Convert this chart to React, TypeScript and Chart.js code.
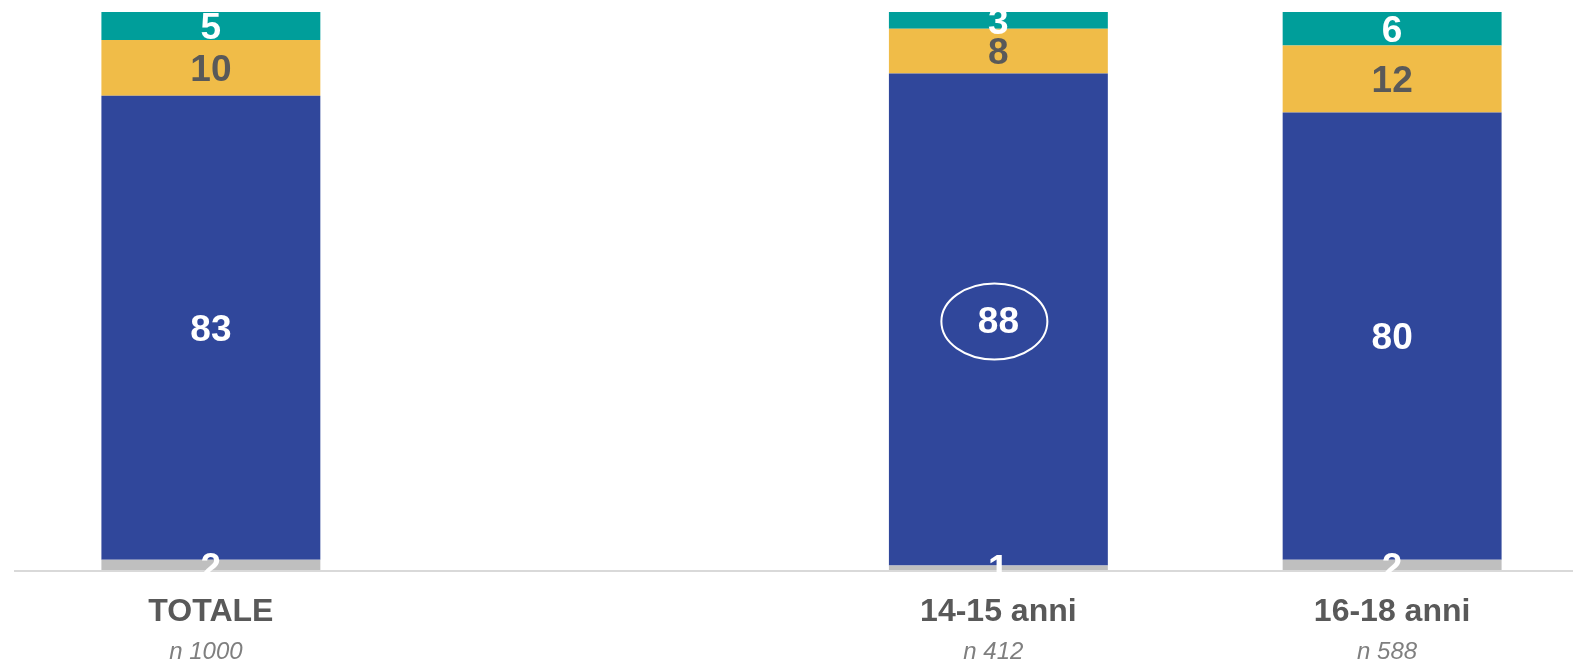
import React, { useEffect, useRef } from "react";
import { Chart, registerables } from "chart.js";

Chart.register(...registerables);

const categories = ["TOTALE", "", "14-15 anni", "16-18 anni"];
const sampleSizes = ["n 1000", "", "n 412", "n 588"];
const seriesNames = ["Serie A", "Serie B", "Serie C", "Serie D"];
const grayValues = [2, null, 1, 2];
const blueValues = [83, null, 88, 80];
const yellowValues = [10, null, 8, 12];
const tealValues = [5, null, 3, 6];
const highlightCategory = "14-15 anni";
const highlightSeries = 1;

const FONT = '"Liberation Sans", Arial, sans-serif';
const barColors = ["#bfbfbf", "#30479b", "#f0bc48", "#009e9a"];
const labelColors = ["#ffffff", "#ffffff", "#595959", "#ffffff"];

const labelPlugin = {
  id: "customLabels",
  afterDatasetsDraw(chart: any) {
    const ctx = chart.ctx;
    const area = chart.chartArea;
    const xScale = chart.scales.x;
    // axis line
    ctx.save();
    ctx.strokeStyle = "#d9d9d9";
    ctx.lineWidth = 2;
    ctx.beginPath();
    ctx.moveTo(area.left, area.bottom);
    ctx.lineTo(area.right, area.bottom);
    ctx.stroke();
    ctx.restore();

    // data labels
    ctx.save();
    ctx.beginPath();
    ctx.rect(0, area.top, chart.width, area.bottom + 2 - area.top);
    ctx.clip();
    ctx.font = `bold 37px ${FONT}`;
    ctx.textAlign = "center";
    ctx.textBaseline = "middle";
    chart.data.datasets.forEach((ds: any, di: number) => {
      const meta = chart.getDatasetMeta(di);
      meta.data.forEach((el: any, i: number) => {
        const v = ds.data[i];
        if (v === null || v === undefined) return;
        const y = (el.y + el.base) / 2;
        ctx.fillStyle = labelColors[di];
        ctx.fillText(String(v), el.x, y + 3);
        if (categories[i] === highlightCategory && di === highlightSeries) {
          ctx.save();
          ctx.strokeStyle = "#ffffff";
          ctx.lineWidth = 2;
          ctx.beginPath();
          ctx.ellipse(el.x - 4, y + 2, 53, 38, 0, 0, Math.PI * 2);
          ctx.stroke();
          ctx.restore();
        }
      });
    });
    ctx.restore();

    // category labels
    ctx.save();
    ctx.textAlign = "center";
    ctx.textBaseline = "alphabetic";
    categories.forEach((c, i) => {
      const x = xScale.getPixelForValue(i);
      ctx.font = `bold 32px ${FONT}`;
      ctx.fillStyle = "#595959";
      ctx.fillText(c, x, area.bottom + 50);
      ctx.font = `italic 24px ${FONT}`;
      ctx.fillStyle = "#7f7f7f";
      ctx.fillText(sampleSizes[i], x - 5, area.bottom + 88);
    });
    ctx.restore();
  },
};

export default function App() {
  const ref = useRef<HTMLCanvasElement>(null);
  useEffect(() => {
    if (!ref.current) return;
    const values = [grayValues, blueValues, yellowValues, tealValues];
    const chart = new Chart(ref.current, {
      type: "bar",
      data: {
        labels: categories,
        datasets: values.map((vals, i) => ({
          label: seriesNames[i],
          data: vals,
          backgroundColor: barColors[i],
          borderWidth: 0,
          categoryPercentage: 1,
          barPercentage: 0.556,
        })),
      },
      options: {
        responsive: false,
        animation: false,
        devicePixelRatio: 1,
        layout: { padding: { left: 14, right: 11, top: 12, bottom: 91 } },
        plugins: { legend: { display: false }, tooltip: { enabled: false } },
        scales: {
          x: { stacked: true, display: false, offset: true },
          y: { stacked: true, display: false, min: 0, max: 100 },
        },
      },
      plugins: [labelPlugin],
    });
    return () => chart.destroy();
  }, []);
  return (
    <div
      style={{
        position: "absolute",
        left: 0,
        top: 0,
        width: 1573,
        height: 662,
        overflow: "hidden",
        background: "#ffffff",
      }}
    >
      <canvas ref={ref} width={1600} height={662} style={{ width: 1600, height: 662, display: "block" }} />
    </div>
  );
}
